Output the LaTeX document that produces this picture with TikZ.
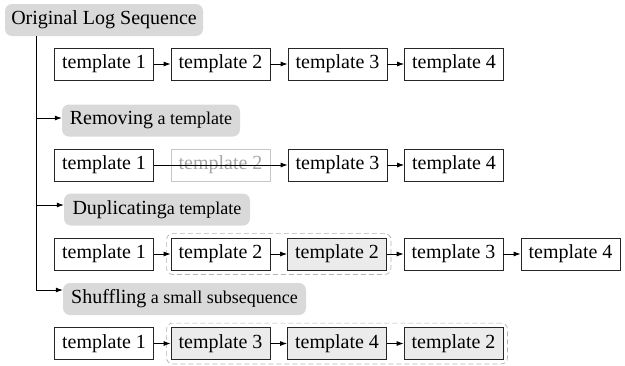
\documentclass[tikz,border=0pt]{standalone}
\usepackage{fontspec}
\setmainfont{Liberation Serif}
\usetikzlibrary{arrows.meta,fit}
\newcommand\bigtxt{\fontsize{20}{24}\selectfont}
\newcommand\smtxt{\fontsize{18}{22}\selectfont}
\begin{document}
\begin{tikzpicture}[x=1pt,y=-1pt,
  tbox/.style={draw=black!85, line width=0.8pt, fill=white, minimum width=99pt, minimum height=32pt, inner sep=0pt, font=\bigtxt},
  gbox/.style={tbox, fill=black!8},
  fadedbox/.style={tbox, draw=black!22, text=black!35},
  lbl/.style={fill=black!15, rounded corners=7pt, minimum height=32pt, inner sep=0pt, font=\bigtxt},
  grp/.style={draw=black!30, dashed, dash pattern=on 5pt off 3pt, line width=0.7pt, rounded corners=6pt, inner sep=4pt},
  conn/.style={line width=0.8pt, -{Latex[length=7pt,width=5pt]}},
  trunk/.style={line width=0.8pt}]
\useasboundingbox (0,0) rectangle (625,365);

% labels
\node[lbl, minimum width=198pt] (orig) at (104,20) {Original Log Sequence};
\node[lbl, minimum width=178pt] (rem) at (151,120.5) {Removing{\smtxt{} a template}};
\node[lbl, minimum width=186pt] (dup) at (157,209.5) {Duplicating{\smtxt a template}};
\node[lbl, minimum width=243pt] (shu) at (184.5,299) {Shuffling{\smtxt{} a small subsequence}};

% row 1
\node[tbox] (a1) at (104,64) {template 1};
\node[tbox] (a2) at (220.5,64) {template 2};
\node[tbox] (a3) at (337.5,64) {template 3};
\node[tbox] (a4) at (454,64) {template 4};

% row 2
\node[tbox] (b1) at (104,165) {template 1};
\node[fadedbox] (b2) at (220.5,165) {template 2};
\node[tbox] (b3) at (337.5,165) {template 3};
\node[tbox] (b4) at (454,165) {template 4};

% row 3
\node[tbox] (c1) at (104,254) {template 1};
\node[tbox] (c2) at (220.5,254) {template 2};
\node[gbox] (c3) at (337,254) {template 2};
\node[tbox] (c4) at (453.5,254) {template 3};
\node[tbox] (c5) at (570.5,254) {template 4};
\node[grp, fit=(c2)(c3)] (cg) {};

% row 4
\node[tbox] (d1) at (104,343.5) {template 1};
\node[gbox] (d2) at (220.5,343.5) {template 3};
\node[gbox] (d3) at (337,343.5) {template 4};
\node[gbox] (d4) at (453.5,343.5) {template 2};
\node[grp, fit=(d2)(d4)] (dg) {};

% trunk
\coordinate (t0) at (36,36);
\coordinate (t1) at (36,118);
\coordinate (t2) at (36,205);
\coordinate (t3) at (36,290);
\draw[trunk] (t0) -- (t3);
\draw[conn] (t1) -- (t1 -| rem.west);
\draw[conn] (t2) -- (t2 -| dup.west);
\draw[conn] (t3) -- (t3 -| shu.west);

% connectors
\draw[conn] (a1) -- (a2);
\draw[conn] (a2) -- (a3);
\draw[conn] (a3) -- (a4);
\draw[conn] (b1) -- (b3);
\draw[conn] (b3) -- (b4);
\draw[conn] (c1) -- (c2);
\draw[conn] (c2) -- (c3);
\draw[conn] (c3) -- (c4);
\draw[conn] (c4) -- (c5);
\draw[conn] (d1) -- (d2);
\draw[conn] (d2) -- (d3);
\draw[conn] (d3) -- (d4);
\end{tikzpicture}
\end{document}
